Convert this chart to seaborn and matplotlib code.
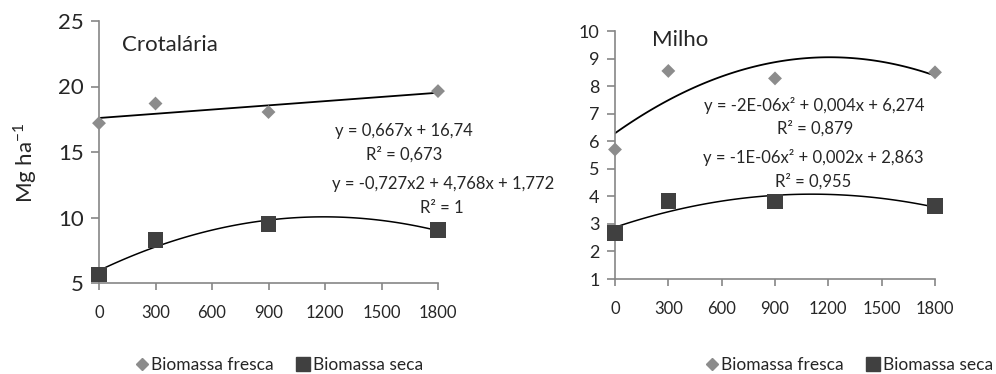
import numpy as np
import pandas as pd
import matplotlib
matplotlib.use("Agg")
import matplotlib.pyplot as plt
from matplotlib.lines import Line2D
import seaborn as sns

# --- data ---
doses = [0, 300, 900, 1800]
crot_fresca = [17.2, 18.7, 18.05, 19.65]
crot_seca = [5.65, 8.3, 9.5, 9.05]
milho_fresca = [5.7, 8.55, 8.28, 8.5]
milho_seca = [2.66, 3.83, 3.82, 3.65]
x_ticks = [0, 300, 600, 900, 1200, 1500, 1800]

crot_eqs = ["y = 0,667x + 16,74", "R² = 0,673",
            "y = -0,727x2 + 4,768x + 1,772", "R² = 1"]
milho_eqs = ["y = -2E-06x² + 0,004x + 6,274", "R² = 0,879",
             "y = -1E-06x² + 0,002x + 2,863", "R² = 0,955"]

sns.set_style("white")
plt.rcParams["font.family"] = ["Lato", "DejaVu Sans"]

W, H = 996, 374
fig = plt.figure(figsize=(W / 100, H / 100), dpi=100)

C_FRESCA = "#8c8c8c"
C_SECA = "#404040"
C_AXIS = "#868686"


def px(x, y):
    return x / W, 1 - y / H


def panel(rect, fresca, seca, order_fresca, ylim, yticks, ysize):
    ax = fig.add_axes(rect)
    df = pd.DataFrame({"dose": doses, "fresca": fresca, "seca": seca})
    sns.regplot(data=df, x="dose", y="fresca", order=order_fresca, ci=None,
                scatter=False, truncate=True, ax=ax,
                line_kws={"color": "black", "lw": 1.3})
    sns.regplot(data=df, x="dose", y="seca", order=2, ci=None,
                scatter=False, truncate=True, ax=ax,
                line_kws={"color": "black", "lw": 1.1})
    sns.scatterplot(data=df, x="dose", y="fresca", marker="D", s=50,
                    color=C_FRESCA, edgecolor="none", ax=ax, clip_on=False,
                    zorder=3)
    sns.scatterplot(data=df, x="dose", y="seca", marker="s", s=125,
                    color=C_SECA, edgecolor="none", ax=ax, clip_on=False,
                    zorder=3)
    ax.set_xlim(0, 1800)
    ax.set_ylim(*ylim)
    ax.set_xticks(x_ticks)
    ax.set_yticks(yticks)
    ax.set_xlabel("")
    ax.set_ylabel("")
    for s in ["top", "right"]:
        ax.spines[s].set_visible(False)
    for s in ["left", "bottom"]:
        ax.spines[s].set_color(C_AXIS)
        ax.spines[s].set_linewidth(1.2)
    ax.tick_params(axis="y", direction="out", length=6, width=1.2,
                   color=C_AXIS, labelsize=ysize, pad=5, left=True)
    ax.tick_params(axis="x", direction="out", length=5, width=1.2,
                   color=C_AXIS, labelsize=12, pad=11, bottom=True)
    return ax


ax1 = panel([99 / W, 1 - 283 / H, 339 / W, 262 / H], crot_fresca, crot_seca,
            1, (5, 25), [5, 10, 15, 20, 25], 16)
ax2 = panel([615 / W, 1 - 279 / H, 320 / W, 248 / H], milho_fresca,
            milho_seca, 2, (1, 10), list(range(1, 11)), 13)

fig.text(*px(122, 45), "Crotalária", fontsize=16, va="center", ha="left")
fig.text(*px(652, 40), "Milho", fontsize=16, va="center", ha="left")
fig.text(*px(25, 163), "Mg ha$^{\\mathregular{-1}}$", fontsize=16,
         rotation=90, va="center", ha="center")

for txt, (x, y) in zip(crot_eqs, [(404, 131), (404, 154), (443, 184), (442, 208)]):
    fig.text(*px(x, y), txt, fontsize=12, ha="center", va="center")
for txt, (x, y) in zip(milho_eqs, [(814, 105), (815, 128), (813, 158), (813, 181)]):
    fig.text(*px(x, y), txt, fontsize=12, ha="center", va="center")

handles = [
    Line2D([], [], marker="D", color=C_FRESCA, ls="none", markersize=6,
           label="Biomassa fresca"),
    Line2D([], [], marker="s", color=C_SECA, ls="none", markersize=10,
           label="Biomassa seca"),
]
leg_kw = dict(ncol=2, frameon=False, fontsize=12.5, handletextpad=0.05,
              columnspacing=1.2, handlelength=1.0, borderpad=0,
              borderaxespad=0)
fig.legend(handles=handles, loc="center left", bbox_to_anchor=px(133, 365),
           **leg_kw)
fig.legend(handles=handles, loc="center right", bbox_to_anchor=px(993, 365),
           **leg_kw)

fig.savefig("out.png", dpi=100)
